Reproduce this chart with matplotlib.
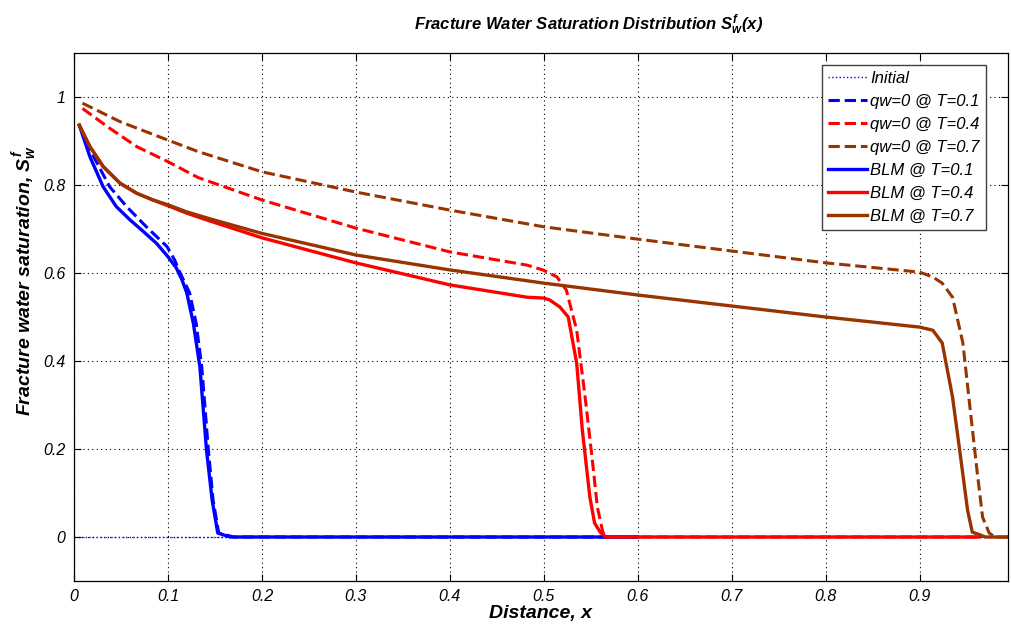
import matplotlib
matplotlib.use("Agg")
import matplotlib.pyplot as plt

plt.rcParams["font.family"] = ["Liberation Sans", "DejaVu Sans"]
plt.rcParams["mathtext.fontset"] = "custom"
plt.rcParams["mathtext.it"] = "Liberation Sans:bold:italic"
plt.rcParams["mathtext.rm"] = "Liberation Sans:bold:italic"
plt.rcParams["mathtext.bf"] = "Liberation Sans:bold:italic"

BLUE = "#0000ff"
RED = "#ff0000"
BROWN = "#993300"

# values
init_x = [0.0, 0.994]
init_y = [0.0, 0.0]

qw01_x = [0.0056, 0.021, 0.038, 0.056, 0.077, 0.099, 0.107, 0.113, 0.123, 0.130, 0.136, 0.143, 0.148,
          0.154, 0.170, 0.6]
qw01_y = [0.936, 0.864, 0.796, 0.751, 0.705, 0.660, 0.630, 0.600, 0.555, 0.486, 0.386, 0.198, 0.084,
          0.009, 0.0, 0.0]

qw04_x = [0.009, 0.038, 0.067, 0.1, 0.132, 0.2, 0.3, 0.4, 0.482, 0.499, 0.514, 0.524, 0.535, 0.544,
          0.552, 0.557, 0.563, 0.570, 0.96]
qw04_y = [0.974, 0.929, 0.887, 0.853, 0.817, 0.766, 0.702, 0.648, 0.618, 0.607, 0.591, 0.561, 0.470,
          0.318, 0.168, 0.068, 0.009, 0.0, 0.0]

qw07_x = [0.009, 0.049, 0.1, 0.132, 0.2, 0.3, 0.4, 0.5, 0.6, 0.7, 0.8, 0.9, 0.914, 0.924, 0.935,
          0.946, 0.953, 0.961, 0.967, 0.974, 0.980, 0.994]
qw07_y = [0.986, 0.944, 0.902, 0.876, 0.830, 0.784, 0.743, 0.705, 0.677, 0.650, 0.623, 0.602, 0.591,
          0.577, 0.545, 0.441, 0.305, 0.152, 0.045, 0.009, 0.0, 0.0]

blm01_x = [0.0056, 0.017, 0.031, 0.045, 0.060, 0.074, 0.088, 0.100, 0.109, 0.115, 0.120, 0.127, 0.134,
           0.141, 0.147, 0.153, 0.166, 0.6]
blm01_y = [0.936, 0.864, 0.796, 0.751, 0.720, 0.694, 0.667, 0.637, 0.611, 0.584, 0.555, 0.486, 0.386,
           0.198, 0.084, 0.009, 0.0, 0.0]

blm04_x = [0.0056, 0.017, 0.031, 0.049, 0.067, 0.084, 0.1, 0.12, 0.145, 0.2, 0.3, 0.4, 0.482, 0.5,
           0.506, 0.517, 0.526, 0.535, 0.541, 0.549, 0.554, 0.560, 0.566, 0.963]
blm04_y = [0.936, 0.887, 0.842, 0.804, 0.781, 0.766, 0.753, 0.736, 0.718, 0.680, 0.623, 0.573, 0.545,
           0.543, 0.539, 0.523, 0.500, 0.395, 0.243, 0.091, 0.032, 0.011, 0.0, 0.0]

blm07_x = [0.0056, 0.017, 0.031, 0.049, 0.067, 0.084, 0.1, 0.12, 0.145, 0.2, 0.3, 0.4, 0.5, 0.6, 0.7,
           0.8, 0.9, 0.914, 0.924, 0.935, 0.943, 0.951, 0.956, 0.964, 0.970, 0.994]
blm07_y = [0.936, 0.887, 0.842, 0.804, 0.781, 0.766, 0.755, 0.739, 0.723, 0.690, 0.641, 0.607, 0.577,
           0.550, 0.525, 0.500, 0.477, 0.470, 0.441, 0.318, 0.191, 0.061, 0.011, 0.005, 0.0, 0.0]

fig = plt.figure(figsize=(10.11, 6.26), dpi=100)
ax = fig.add_axes([0.0732, 0.0719, 0.9238, 0.8434])

ax.plot(init_x, init_y, ":", color=BLUE, lw=1.0, label="Initial")
ax.plot(qw01_x, qw01_y, "--", color=BLUE, lw=2.2, label="qw=0 @ T=0.1")
ax.plot(qw04_x, qw04_y, "--", color=RED, lw=2.2, label="qw=0 @ T=0.4")
ax.plot(qw07_x, qw07_y, "--", color=BROWN, lw=2.2, label="qw=0 @ T=0.7")
ax.plot(blm01_x, blm01_y, "-", color=BLUE, lw=2.4, label="BLM @ T=0.1")
ax.plot(blm04_x, blm04_y, "-", color=RED, lw=2.4, label="BLM @ T=0.4")
ax.plot(blm07_x, blm07_y, "-", color=BROWN, lw=2.4, label="BLM @ T=0.7")

ax.set_xlim(0, 0.994)
ax.set_ylim(-0.1, 1.1)
ax.set_xticks([0, 0.1, 0.2, 0.3, 0.4, 0.5, 0.6, 0.7, 0.8, 0.9])
ax.set_xticklabels(["0", "0.1", "0.2", "0.3", "0.4", "0.5", "0.6", "0.7", "0.8", "0.9"])
ax.set_yticks([0, 0.2, 0.4, 0.6, 0.8, 1.0])
ax.set_yticklabels(["0", "0.2", "0.4", "0.6", "0.8", "1"])
ax.tick_params(direction="in", top=True, right=True, length=5, labelsize=11.5, pad=6)
for lab in ax.get_xticklabels() + ax.get_yticklabels():
    lab.set_fontstyle("italic")
ax.grid(True, linestyle=(0, (1, 3)), color="black", lw=0.8)
for s in ax.spines.values():
    s.set_linewidth(0.9)

ax.set_xlabel("Distance, x", fontsize=14, fontweight="bold", fontstyle="italic")
ax.xaxis.set_label_coords(0.5, -0.045)
ax.set_ylabel("Fracture water saturation, $S_w^f$", fontsize=14, fontweight="bold",
              fontstyle="italic")
ax.yaxis.set_label_coords(-0.037, 0.57)
ax.text(0.551, 1.03, "Fracture Water Saturation Distribution $S_w^f$(x)", transform=ax.transAxes,
        ha="center", va="bottom", fontsize=12, fontweight="bold", fontstyle="italic")

leg = ax.legend(loc="upper right", bbox_to_anchor=(0.976, 0.977), borderaxespad=0,
                prop={"size": 12, "style": "italic"}, fancybox=False, framealpha=1,
                edgecolor="#404040", labelspacing=0.48, handlelength=2.35, handletextpad=0.2,
                borderpad=0.35)
leg.get_frame().set_linewidth(1.0)

fig.savefig("out.png", dpi=100)
